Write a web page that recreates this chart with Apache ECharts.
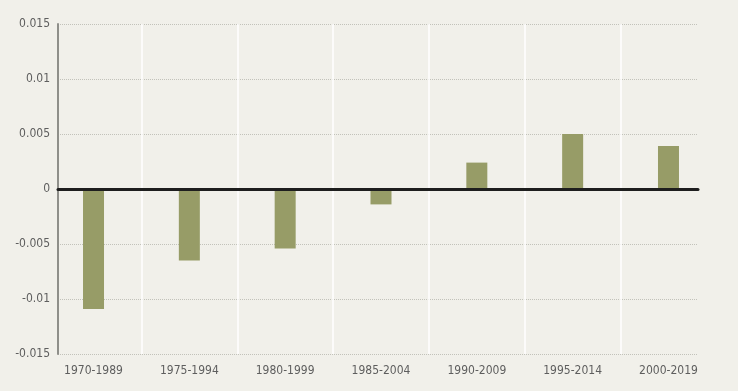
<!DOCTYPE html>
<html><head><meta charset="utf-8">
<script src="https://cdn.jsdelivr.net/npm/echarts@6/dist/echarts.min.js"></script>
<style>html,body{margin:0;padding:0;background:#f1f0ea;}#c{width:738px;height:391px;}</style>
</head><body><div id="c"></div>
<script>
const categories = ['1970-1989','1975-1994','1980-1999','1985-2004','1990-2009','1995-2014','2000-2019'];
const values = [-0.0109, -0.0065, -0.0054, -0.0014, 0.0024, 0.0050, 0.0039];
const yTicks = [-0.015, -0.01, -0.005, 0, 0.005, 0.01, 0.015];

const font = '"DejaVu Sans Condensed","Liberation Sans Narrow",sans-serif';
const chart = echarts.init(document.getElementById('c'));
chart.setOption({
  backgroundColor: '#f1f0ea',
  animation: false,
  grid: [
    {left: 45.6, right: 21.6, top: 24, bottom: 37},
    {left: 58, right: 40, top: 24, bottom: 37}
  ],
  xAxis: [
    {gridIndex: 0, type: 'category', data: categories,
     axisLine: {show: false}, axisTick: {show: false},
     axisLabel: {color: '#5e5e5e', fontFamily: font, fontSize: 12, margin: 11},
     splitLine: {show: true, showMinLine: false, showMaxLine: false, lineStyle: {color: '#ffffff', width: 1.5}}},
    {gridIndex: 1, type: 'category', data: categories, z: 5,
     axisLine: {show: true, onZero: true, lineStyle: {color: '#1e1e1e', width: 3}},
     axisTick: {show: false}, axisLabel: {show: false}, splitLine: {show: false}}
  ],
  yAxis: [
    {gridIndex: 0, type: 'value', min: -0.015, max: 0.015, interval: 0.005, show: false},
    {gridIndex: 1, type: 'value', min: -0.015, max: 0.015, interval: 0.005,
     axisLine: {show: true, lineStyle: {color: '#8f8f8a', width: 2}},
     axisTick: {show: false},
     axisLabel: {color: '#5e5e5e', fontFamily: font, fontSize: 12, margin: 8,
       formatter: v => { const t = yTicks.find(x => Math.abs(x - v) < 1e-9); return String(t); }},
     splitLine: {show: true, lineStyle: {color: '#c2c2ba', type: 'dotted', width: 1}}}
  ],
  series: [{
    type: 'bar', xAxisIndex: 0, yAxisIndex: 0, data: values,
    barWidth: 21, itemStyle: {color: '#979c67'}
  }]
});
</script></body></html>
